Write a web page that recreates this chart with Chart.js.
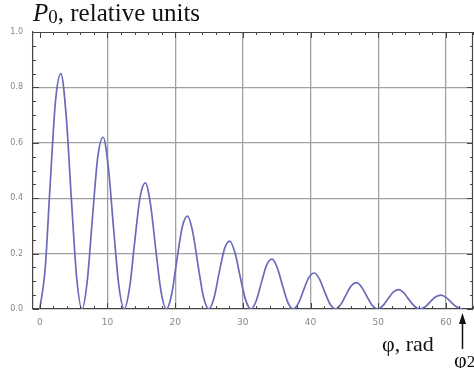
<!DOCTYPE html>
<html><head><meta charset="utf-8">
<script src="https://cdn.jsdelivr.net/npm/chart.js@4.4.0/dist/chart.umd.min.js"></script>
<style>
html,body{margin:0;padding:0;background:#fff;}
#wrap{position:relative;width:474px;height:368px;overflow:hidden;background:#fff;}
canvas{position:absolute;left:0;top:0;}
.t{position:absolute;font-family:"Liberation Serif","Times New Roman",serif;color:#111;white-space:nowrap;line-height:1;}
</style></head><body>
<div id="wrap">
<canvas id="c" width="474" height="368"></canvas>
<div class="t" style="left:33px;top:0px;font-size:25px;"><i>P</i><span style="font-size:19px;position:relative;top:2px;">0</span>, relative units</div>
<div class="t" style="left:382px;top:333px;font-size:22px;">φ, rad</div>
<div class="t" style="left:454px;top:349px;font-size:22px;">φ<span style="font-size:17px;">2</span></div>
</div>
<script>
// phase, rad
const phi = [0, 0.78, 1.56, 2.34, 3.12, 3.90, 4.68, 5.46,
  6.24, 7.02, 7.80, 8.58, 9.36, 10.14, 10.92, 11.70,
  12.48, 13.26, 14.04, 14.82, 15.60, 16.38, 17.16, 17.94,
  18.72, 19.50, 20.28, 21.06, 21.84, 22.62, 23.40, 24.18,
  24.96, 25.74, 26.52, 27.30, 28.08, 28.86, 29.64, 30.42,
  31.20, 31.98, 32.76, 33.54, 34.32, 35.10, 35.88, 36.66,
  37.44, 38.22, 39.00, 39.78, 40.56, 41.34, 42.12, 42.90,
  43.68, 44.46, 45.24, 46.02, 46.80, 47.58, 48.36, 49.14,
  49.92, 50.70, 51.48, 52.26, 53.04, 53.82, 54.60, 55.38,
  56.16, 56.94, 57.72, 58.50, 59.28, 60.06, 60.84, 61.62,
  62.40];
// P0, relative units
const power = [0, 0.140, 0.460, 0.755, 0.850, 0.698, 0.393, 0.111,
  0, 0.102, 0.335, 0.551, 0.620, 0.509, 0.286, 0.081,
  0, 0.075, 0.246, 0.404, 0.455, 0.374, 0.210, 0.059,
  0, 0.055, 0.181, 0.297, 0.335, 0.275, 0.155, 0.044,
  0, 0.040, 0.133, 0.218, 0.245, 0.201, 0.113, 0.032,
  0, 0.030, 0.097, 0.160, 0.180, 0.148, 0.083, 0.023,
  0, 0.021, 0.070, 0.115, 0.130, 0.107, 0.060, 0.017,
  0, 0.016, 0.051, 0.084, 0.095, 0.078, 0.044, 0.012,
  0, 0.012, 0.038, 0.062, 0.070, 0.057, 0.032, 0.009,
  0, 0.008, 0.027, 0.044, 0.050, 0.041, 0.023, 0.007,
  0];
const xTicks = [0, 10, 20, 30, 40, 50, 60];
const yTicks = [0.0, 0.2, 0.4, 0.6, 0.8, 1.0];
const phi2 = 62.4;

const frame = {
  id: 'frame',
  afterDraw(chart) {
    const {ctx, chartArea: a, scales: {x, y}} = chart;
    ctx.save();
    ctx.strokeStyle = '#444';
    ctx.lineWidth = 1.2;
    ctx.beginPath();
    ctx.moveTo(a.left, a.top + 0.5); ctx.lineTo(a.right, a.top + 0.5);
    ctx.moveTo(a.right - 0.5, a.top); ctx.lineTo(a.right - 0.5, a.bottom);
    ctx.stroke();
    ctx.lineWidth = 1;
    ctx.beginPath();
    for (let v = 0; v <= 64; v += 2) {
      const px = Math.round(x.getPixelForValue(v)) + 0.5;
      const L = (v % 10 === 0) ? 6 : 3;
      ctx.moveTo(px, a.bottom); ctx.lineTo(px, a.bottom - L);
      ctx.moveTo(px, a.top); ctx.lineTo(px, a.top + L);
    }
    for (let i = 0; i <= 20; i++) {
      const v = i * 0.05;
      const py = Math.round(y.getPixelForValue(v)) + 0.5;
      const L = (i % 4 === 0) ? 6 : 3;
      ctx.moveTo(a.left, py); ctx.lineTo(a.left + L, py);
      ctx.moveTo(a.right, py); ctx.lineTo(a.right - L, py);
    }
    ctx.stroke();
    // arrow marking phi2
    const ax = Math.round(x.getPixelForValue(phi2)) + 0.5;
    ctx.strokeStyle = '#111';
    ctx.fillStyle = '#111';
    ctx.lineWidth = 1.5;
    ctx.beginPath();
    ctx.moveTo(ax, a.bottom + 40); ctx.lineTo(ax, a.bottom + 12);
    ctx.stroke();
    ctx.beginPath();
    ctx.moveTo(ax, a.bottom + 4);
    ctx.lineTo(ax - 3.5, a.bottom + 15);
    ctx.lineTo(ax + 3.5, a.bottom + 15);
    ctx.closePath();
    ctx.fill();
    ctx.restore();
  }
};

new Chart(document.getElementById('c'), {
  type: 'line',
  data: {
    datasets: [{
      data: phi.map((v, i) => ({x: v, y: power[i]})),
      borderColor: '#6a6aba',
      borderWidth: 1.7,
      pointRadius: 0,
      cubicInterpolationMode: 'monotone',
      fill: false
    }]
  },
  options: {
    responsive: false,
    animation: false,
    layout: {padding: {top: 32, right: 1, left: 0, bottom: 0}},
    plugins: {legend: {display: false}, tooltip: {enabled: false}},
    scales: {
      x: {
        type: 'linear', min: -1, max: 64,
        afterBuildTicks(s) { s.ticks = xTicks.map(v => ({value: v})); },
        afterFit(s) { s.height = 59; },
        grid: {
          color: c => (c.tick && c.tick.value === 0) ? 'rgba(0,0,0,0)' : '#a0a0a0',
          lineWidth: 1.3, drawTicks: false
        },
        border: {display: true, color: '#444', width: 1.2},
        ticks: {font: {family: 'DejaVu Sans', size: 9}, color: '#888', padding: 8, maxRotation: 0, autoSkip: false}
      },
      y: {
        type: 'linear', min: 0, max: 1,
        afterBuildTicks(s) { s.ticks = yTicks.map(v => ({value: v})); },
        afterFit(s) { s.width = 33; },
        grid: {
          color: c => (c.tick && (c.tick.value === 0 || c.tick.value === 1)) ? 'rgba(0,0,0,0)' : '#a0a0a0',
          lineWidth: 1.3, drawTicks: false
        },
        border: {display: true, color: '#444', width: 1.2},
        ticks: {font: {family: 'DejaVu Sans', size: 8}, color: '#888', padding: 10,
          callback: v => Number(v).toFixed(1)}
      }
    }
  },
  plugins: [frame]
});
</script>
</body></html>
